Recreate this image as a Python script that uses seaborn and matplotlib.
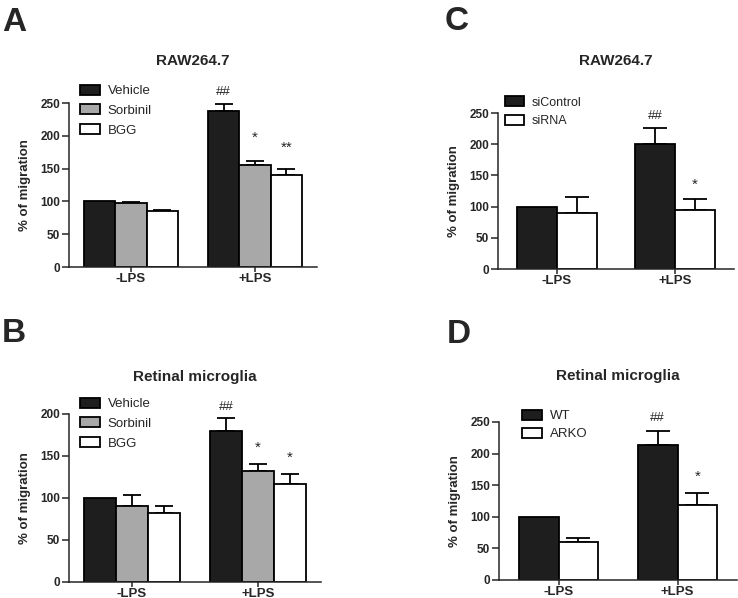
import numpy as np
import pandas as pd
import matplotlib
matplotlib.use("Agg")
import matplotlib.pyplot as plt
import seaborn as sns
from matplotlib.patches import Patch

sns.set_style("ticks")
plt.rcParams["font.family"] = ["Liberation Sans", "DejaVu Sans"]

conditions = ["-LPS", "+LPS"]

# A: RAW264.7 with AR inhibitors
a_groups = ["Vehicle", "Sorbinil", "BGG"]
a_mean = {"Vehicle": [100, 238], "Sorbinil": [97, 155], "BGG": [85, 140]}
a_sem = {"Vehicle": [0, 10], "Sorbinil": [1.5, 7], "BGG": [2, 9]}
a_marks = ["##", "*", "**"]
a_mark_y = [262, 191, 176]
a_yticks = [0, 50, 100, 150, 200, 250]

# B: retinal microglia with AR inhibitors
b_groups = ["Vehicle", "Sorbinil", "BGG"]
b_mean = {"Vehicle": [100, 180], "Sorbinil": [91, 132], "BGG": [82.5, 117]}
b_sem = {"Vehicle": [0, 15], "Sorbinil": [12, 9], "BGG": [8, 11]}
b_marks = ["##", "*", "*"]
b_mark_y = [205, 155, 143.5]
b_yticks = [0, 50, 100, 150, 200]

# C: RAW264.7 with siRNA
c_groups = ["siControl", "siRNA"]
c_mean = {"siControl": [100, 201], "siRNA": [90, 94.5]}
c_sem = {"siControl": [0, 25], "siRNA": [25, 17]}
c_marks = ["##", "*"]
c_mark_y = [240.5, 128.5]
c_yticks = [0, 50, 100, 150, 200, 250]

# D: retinal microglia WT vs ARKO
d_groups = ["WT", "ARKO"]
d_mean = {"WT": [100, 213.5], "ARKO": [60.5, 118.5]}
d_sem = {"WT": [0, 22], "ARKO": [5.5, 19.5]}
d_marks = ["##", "*"]
d_mark_y = [252, 157.5]
d_yticks = [0, 50, 100, 150, 200, 250]

DARK = "#1e1e1e"
GREY = "#a8a8a8"
WHITE = "#ffffff"


def draw_panel(ax, title, groups, mean, sem, colors, width, yticks, marks, mark_y,
               capsize, title_y, leg_xy, leg_fs, leg_space):
    df = pd.DataFrame({
        "condition": conditions * len(groups),
        "group": [g for g in groups for _ in conditions],
        "value": [v for g in groups for v in mean[g]],
    })
    sns.barplot(data=df, x="condition", y="value", hue="group", order=conditions,
                hue_order=groups, palette=colors, saturation=1, width=width,
                edgecolor="black", linewidth=1.3, errorbar=None, legend=False, ax=ax)

    # one-sided (upper) error bars, placed on seaborn's bars
    for g, cont in zip(groups, ax.containers):
        for p in cont.patches:
            xc = p.get_x() + p.get_width() / 2
            ci = int(round(xc))
            err = sem[g][ci]
            if err > 0:
                ax.errorbar(xc, p.get_height(), yerr=[[0], [err]], fmt="none",
                            ecolor="black", elinewidth=1.3, capsize=capsize,
                            capthick=1.3, zorder=0.5)
            if ci == 1:
                k = groups.index(g)
                fs = 9.5 if marks[k].startswith("#") else 11
                ax.text(xc, mark_y[k], marks[k], ha="center", va="baseline",
                        fontsize=fs)

    ax.set_xlim(-0.5, 1.5)
    ax.set_ylim(0, yticks[-1])
    ax.set_yticks(yticks)
    ax.set_xlabel("")
    ax.set_ylabel("% of migration", fontsize=9.5, fontweight="bold", labelpad=7)
    ax.tick_params(axis="y", length=4.8, width=1.1, pad=1.5, labelsize=8.5)
    ax.tick_params(axis="x", length=3.5, width=1.1, pad=0.5, labelsize=9.5)
    plt.setp(ax.get_xticklabels() + ax.get_yticklabels(), fontweight="bold")
    sns.despine(ax=ax)
    for s in ("left", "bottom"):
        ax.spines[s].set_linewidth(1.1)

    ax.text(0.5, title_y, title, transform=ax.transAxes, ha="center",
            va="baseline", fontsize=11, fontweight="bold")

    handles = [Patch(facecolor=c, edgecolor="black", linewidth=1.3, label=g)
               for g, c in zip(groups, colors)]
    ax.legend(handles=handles, loc="upper left", bbox_to_anchor=leg_xy,
              frameon=False, borderpad=0, borderaxespad=0, handlelength=1.5,
              handleheight=0.8, handletextpad=0.6, labelspacing=leg_space,
              fontsize=leg_fs)


fig = plt.figure(figsize=(7.38, 5.98), dpi=100)
W, H = 738, 598


def axes_px(left, right, bottom, top):
    return fig.add_axes([left / W, 1 - bottom / H, (right - left) / W, (bottom - top) / H])


ax_a = axes_px(69, 317, 267, 103)
ax_b = axes_px(69, 321, 582, 414)
ax_c = axes_px(498, 734, 269, 113)
ax_d = axes_px(499, 737, 580, 422)

draw_panel(ax_a, "RAW264.7", a_groups, a_mean, a_sem, [DARK, GREY, WHITE], 0.76,
           a_yticks, a_marks, a_mark_y, 6.3, 1.232, (0.044, 1.112), 9.5, 0.53)
draw_panel(ax_b, "Retinal microglia", b_groups, b_mean, b_sem, [DARK, GREY, WHITE], 0.76,
           b_yticks, b_marks, b_mark_y, 6.3, 1.198, (0.044, 1.097), 9.5, 0.53)
draw_panel(ax_c, "RAW264.7", c_groups, c_mean, c_sem, [DARK, WHITE], 0.68,
           c_yticks, c_marks, c_mark_y, 8.5, 1.308, (0.03, 1.106), 9, 0.53)
draw_panel(ax_d, "Retinal microglia", d_groups, d_mean, d_sem, [DARK, WHITE], 0.67,
           d_yticks, d_marks, d_mark_y, 8.5, 1.266, (0.097, 1.078), 9.5, 0.42)

for letter, x, y in [("A", 2, 31), ("C", 445, 30), ("B", 2, 342), ("D", 447, 343)]:
    fig.text(x / W, 1 - y / H, letter, fontsize=24, fontweight="bold", va="baseline")

fig.savefig("out.png", dpi=100)
